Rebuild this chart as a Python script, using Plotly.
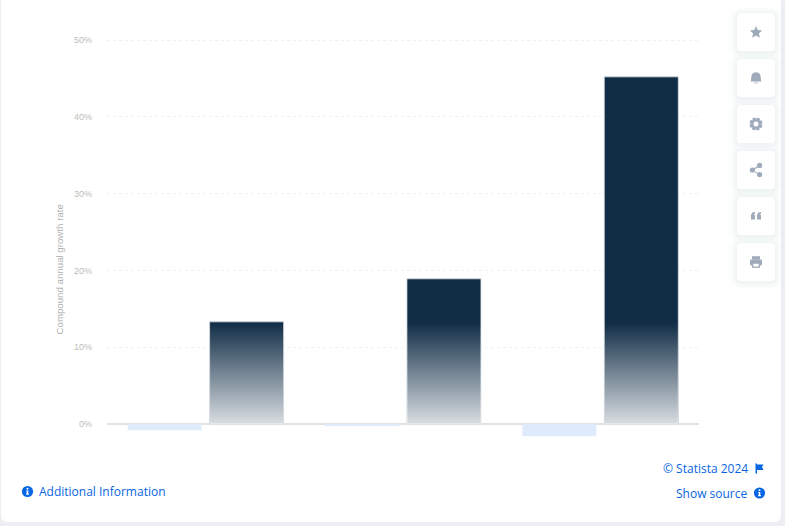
import math
import plotly.graph_objects as go

W, H = 785, 526

# Data (category names are not shown in the reference)
category_index = [0, 1, 2]
light_values = [-0.8, -0.15, -1.6]
dark_values = [13.3, 18.9, 45.2]
tick_values = [0, 10, 20, 30, 40, 50]
tick_labels = ["0%", "10%", "20%", "30%", "40%", "50%"]
axis_title = "Compound annual growth rate"
gradient_height = 13.2

LIGHT = "#dfeafb"
DARK = "#112d46"
BLUE = "#0666e3"
ICON = "#9fabbb"

BAR_W = 0.375
OFFSET = 0.2075


def px(x):
    return x / W


def py(y):
    return 1 - y / H


def rrect_path(x0, y0, x1, y1, r):
    k = r * 0.45
    pts = [
        f"M{px(x0 + r)},{py(y0)}", f"L{px(x1 - r)},{py(y0)}",
        f"C{px(x1 - k)},{py(y0)} {px(x1)},{py(y0 + k)} {px(x1)},{py(y0 + r)}",
        f"L{px(x1)},{py(y1 - r)}",
        f"C{px(x1)},{py(y1 - k)} {px(x1 - k)},{py(y1)} {px(x1 - r)},{py(y1)}",
        f"L{px(x0 + r)},{py(y1)}",
        f"C{px(x0 + k)},{py(y1)} {px(x0)},{py(y1 - k)} {px(x0)},{py(y1 - r)}",
        f"L{px(x0)},{py(y0 + r)}",
        f"C{px(x0)},{py(y0 + k)} {px(x0 + k)},{py(y0)} {px(x0 + r)},{py(y0)}", "Z",
    ]
    return " ".join(pts)


def poly(points):
    return "M" + " L".join(f"{px(x)},{py(y)}" for x, y in points) + " Z"


def shape(path, fill, layer="below"):
    return dict(type="path", xref="paper", yref="paper", path=path,
                fillcolor=fill, line=dict(width=0), layer=layer)


def circle(cx, cy, r, fill, layer="above"):
    return dict(type="circle", xref="paper", yref="paper",
                x0=px(cx - r), x1=px(cx + r), y0=py(cy + r), y1=py(cy - r),
                fillcolor=fill, line=dict(width=0), layer=layer)


shapes = []
# card
shapes.append(shape(rrect_path(1, -12, 781, 522, 6), "#ffffff"))

# side buttons
button_tops = [13, 59, 105, 151, 197, 243]
for top in button_tops:
    for grow, alpha in [(9, 0.008), (6, 0.012), (4, 0.018), (2, 0.025)]:
        shapes.append(shape(rrect_path(737 - grow, top - grow + 1, 775 + grow, top + 38 + grow + 1, 4 + grow),
                            f"rgba(60,80,120,{alpha})"))
    shapes.append(shape(rrect_path(737, top, 775, top + 38, 4), "#ffffff"))

# star
cx, cy = 756, 32.5
star = []
for i in range(10):
    r = 6.6 if i % 2 == 0 else 3.0
    a = -math.pi / 2 + i * math.pi / 5
    star.append((cx + r * math.cos(a), cy + r * math.sin(a)))
shapes.append(shape(poly(star), ICON, "above"))

# bell
cx, cy = 756, 78
shapes.append(shape(
    f"M{px(cx-5.4)},{py(cy+3.6)} C{px(cx-4.6)},{py(cy+1.5)} {px(cx-4.8)},{py(cy-1)} {px(cx-4.6)},{py(cy-2)} "
    f"C{px(cx-4)},{py(cy-7)} {px(cx+4)},{py(cy-7)} {px(cx+4.6)},{py(cy-2)} "
    f"C{px(cx+4.8)},{py(cy-1)} {px(cx+4.6)},{py(cy+1.5)} {px(cx+5.4)},{py(cy+3.6)} Z", ICON, "above"))
shapes.append(shape(poly([(cx-2.2, cy+4.6), (cx+2.2, cy+4.6), (cx+2.2, cy+5.3), (cx-2.2, cy+5.3)]), ICON, "above"))

# gear
cx, cy = 756, 124
gear = []
for i in range(8):
    a = i * math.pi / 4 + math.pi / 8
    for da, r in [(-0.24, 6.7), (0.24, 6.7), (0.5, 4.9)]:
        gear.append((cx + r * math.cos(a + da), cy + r * math.sin(a + da)))
shapes.append(shape(poly(gear), ICON, "above"))
shapes.append(circle(cx, cy, 2.5, "#ffffff"))

# share
cx, cy = 756, 170
shapes.append(shape(poly([(cx+3.6, cy-5), (cx+4.2, cy-4), (cx-3.2, cy+0.5), (cx+4.2, cy+4), (cx+3.6, cy+5), (cx-4.4, cy+0.6), (cx-4.4, cy-0.6)]), ICON, "above"))
shapes.append(circle(cx - 3.6, cy, 2.6, ICON))
shapes.append(circle(cx + 3.6, cy - 4.6, 2.6, ICON))
shapes.append(circle(cx + 3.6, cy + 4.6, 2.6, ICON))

# quote
cx, cy = 756, 216
for dx in (-5, 1):
    shapes.append(shape(poly([(cx+dx, cy-1), (cx+dx+1.2, cy-3.6), (cx+dx+4, cy-4), (cx+dx+4, cy-2.6),
                              (cx+dx+2.6, cy-1), (cx+dx+4, cy-1), (cx+dx+4, cy+3.6), (cx+dx, cy+3.6)]), ICON, "above"))

# print
cx, cy = 756, 262
shapes.append(shape(poly([(cx-4, cy-5.8), (cx+4, cy-5.8), (cx+4, cy-2.4), (cx-4, cy-2.4)]), ICON, "above"))
shapes.append(shape(rrect_path(cx-6, cy-2.4, cx+6, cy+3.4, 1.2), ICON, "above"))
shapes.append(shape(poly([(cx-4, cy+0.6), (cx+4, cy+0.6), (cx+4, cy+5.8), (cx-4, cy+5.8)]), ICON, "above"))
shapes.append(shape(poly([(cx-2.7, cy+1.8), (cx+2.7, cy+1.8), (cx+2.7, cy+4.5), (cx-2.7, cy+4.5)]), "#ffffff", "above"))


def info_icon(cx, cy):
    out = [circle(cx, cy, 5.6, BLUE)]
    out.append(circle(cx, cy - 2.7, 1.0, "#ffffff"))
    out.append(shape(poly([(cx-1.2, cy-1), (cx+0.8, cy-1), (cx+0.8, cy+2), (cx+1.4, cy+2),
                           (cx+1.4, cy+3.2), (cx-1.4, cy+3.2), (cx-1.4, cy+2), (cx-0.8, cy+2),
                           (cx-0.8, cy), (cx-1.2, cy)]), "#ffffff", "above"))
    return out


shapes += info_icon(27.5, 491.5)
shapes += info_icon(759.5, 493)
# flag
shapes.append(shape(poly([(755.5, 463.5), (757, 463.5), (757, 464.5), (763.5, 464.5), (762, 467),
                          (763.5, 470), (757, 470), (757, 473.5), (755.5, 473.5)]), BLUE, "above"))

fig = go.Figure()

fig.add_trace(go.Bar(x=[i + OFFSET * -1 for i in category_index], y=light_values, width=BAR_W,
                     marker=dict(color=LIGHT, line=dict(width=0)), showlegend=False))
fig.add_trace(go.Bar(x=[i + OFFSET for i in category_index], y=dark_values, width=BAR_W,
                     marker=dict(color=DARK, line=dict(color="rgba(215,222,230,0.75)", width=1)),
                     showlegend=False))

# White fade over the lower part of every dark bar
for i, v in zip(category_index, dark_values):
    xl, xr = i + OFFSET - BAR_W / 2, i + OFFSET + BAR_W / 2
    top = min(v, gradient_height)
    fig.add_trace(go.Scatter(
        x=[xl, xr, xr, xl, xl], y=[0, 0, top, top, 0],
        mode="lines", line=dict(width=0), fill="toself", hoverinfo="skip", showlegend=False,
        fillcolor="rgba(255,255,255,0.4)",
        fillgradient=dict(type="vertical", start=0, stop=gradient_height,
                          colorscale=[[0, "rgba(255,255,255,0.84)"], [1, "rgba(255,255,255,0)"]]),
    ))

link_font = dict(family="Open Sans", size=12, color=BLUE)
annotations = [
    dict(text="Additional Information", x=px(36.5), y=py(491.5), xanchor="left", yanchor="middle",
         xref="paper", yref="paper", showarrow=False, font=link_font),
    dict(text="© Statista 2024", x=px(750), y=py(468.5), xanchor="right", yanchor="middle",
         xref="paper", yref="paper", showarrow=False, font=link_font),
    dict(text="Show source", x=px(750), y=py(493.5), xanchor="right", yanchor="middle",
         xref="paper", yref="paper", showarrow=False, font=link_font),
    dict(text=axis_title, x=px(58.5), y=py(270), xanchor="center", yanchor="middle", textangle=-90,
         xref="paper", yref="paper", showarrow=False,
         font=dict(family="Liberation Sans", size=9.7, color="#b0b0b0")),
]

fig.update_layout(
    width=W, height=H, autosize=False,
    margin=dict(l=0, r=0, t=0, b=0, pad=0),
    paper_bgcolor="#eceef3", plot_bgcolor="rgba(0,0,0,0)",
    barmode="overlay", shapes=shapes, annotations=annotations,
    xaxis=dict(domain=[px(107), px(699)], range=[-0.5, 2.5], showgrid=False, zeroline=False,
               showticklabels=False, ticks="", tickmode="array", tickvals=category_index),
    yaxis=dict(domain=[py(440), py(32)], range=[-16 / 7.68, 50 + 8 / 7.68], tickmode="array",
               tickvals=tick_values, ticktext=tick_labels,
               tickfont=dict(family="Liberation Sans", size=9, color="#bdbdbd"),
               ticklabelstandoff=14, automargin=False,
               showgrid=True, gridcolor="#f0f1f2", griddash="dot", gridwidth=1,
               zeroline=True, zerolinecolor="#e2e2e2", zerolinewidth=2, showline=False),
)

fig.write_html("out.html", post_script="document.body.style.margin='0';document.body.style.overflow='hidden';",
               config=dict(displayModeBar=False))
